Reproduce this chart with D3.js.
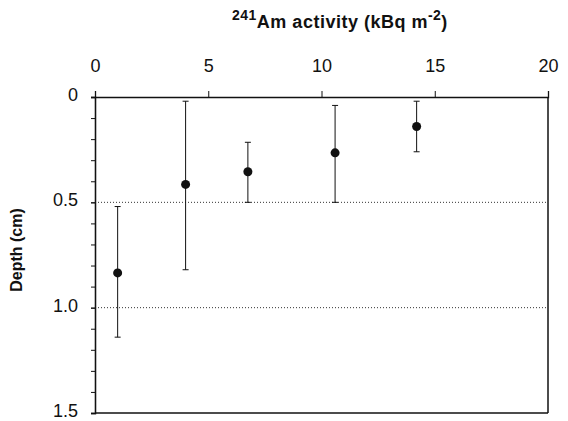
<!DOCTYPE html>
<html>
<head>
<meta charset="utf-8">
<script src="https://cdn.jsdelivr.net/npm/d3@7"></script>
<style>
body { margin: 0; background: #fff; }
text { font-family: Arial, "Liberation Sans", sans-serif; fill: #111; }
</style>
</head>
<body>
<div id="chart"></div>
<script>
// activity (kBq m-2) and depth (cm) with depth error range
var activity = [1.0, 4.0, 6.75, 10.6, 14.2];
var depth = [0.835, 0.415, 0.355, 0.265, 0.14];
var depthLow = [0.52, 0.02, 0.215, 0.04, 0.02];
var depthHigh = [1.14, 0.82, 0.50, 0.50, 0.26];
var xTicks = [0, 5, 10, 15, 20];
var yTicks = [0, 0.5, 1.0, 1.5];
var yTickLabels = ["0", "0.5", "1.0", "1.5"];
var gridLines = [0.5, 1.0];

var W = 568, H = 421;
var margin = {top: 97, right: 20, bottom: 8, left: 95},
    width = 548 - margin.left,
    height = 413 - margin.top;

var data = activity.map(function(a, i) {
    return {x: a, y: depth[i], lo: depthLow[i], hi: depthHigh[i]};
});

var x = d3.scaleLinear().domain([0, 20]).range([0, width]);
var y = d3.scaleLinear().domain([0, 1.5]).range([0, height]);

var svg = d3.select("#chart").append("svg")
    .attr("width", W)
    .attr("height", H)
    .append("g")
    .attr("transform", "translate(" + margin.left + "," + margin.top + ")");

// dotted reference lines
svg.selectAll(".grid")
    .data(gridLines)
    .enter().append("line")
    .attr("x1", 0).attr("x2", width)
    .attr("y1", function(d) { return y(d); })
    .attr("y2", function(d) { return y(d); })
    .attr("stroke", "#333")
    .attr("stroke-width", 1)
    .attr("stroke-dasharray", "1,2");

// top axis
var xAxis = svg.append("g")
    .call(d3.axisTop(x).tickValues(xTicks).tickSize(6).tickPadding(19).tickFormat(d3.format("d")));
xAxis.selectAll("text").style("font-size", "18px");

// left axis with minor ticks
svg.append("g")
    .call(d3.axisLeft(y).tickValues(d3.range(0, 1.51, 0.1)).tickSize(4).tickFormat(""));
var yAxis = svg.append("g")
    .call(d3.axisLeft(y).tickValues(yTicks).tickSize(4).tickPadding(13)
        .tickFormat(function(d, i) { return yTickLabels[i]; }));
yAxis.selectAll("text").style("font-size", "18px").attr("dy", "0.2em");

svg.selectAll(".domain").attr("stroke", "#111").attr("stroke-width", 1.3);
svg.selectAll(".tick line").attr("stroke", "#111");

// right and bottom frame
svg.append("line")
    .attr("x1", width).attr("x2", width).attr("y1", 0).attr("y2", height)
    .attr("stroke", "#111").attr("stroke-width", 1.5);
svg.append("line")
    .attr("x1", 0).attr("x2", width).attr("y1", height).attr("y2", height)
    .attr("stroke", "#111").attr("stroke-width", 1.5);

// error bars
var cap = 3;
var bars = svg.selectAll(".err")
    .data(data)
    .enter().append("g")
    .attr("stroke", "#111")
    .attr("stroke-width", 1);
bars.append("line")
    .attr("x1", function(d) { return x(d.x); })
    .attr("x2", function(d) { return x(d.x); })
    .attr("y1", function(d) { return y(d.lo); })
    .attr("y2", function(d) { return y(d.hi); });
bars.append("line")
    .attr("x1", function(d) { return x(d.x) - cap; })
    .attr("x2", function(d) { return x(d.x) + cap; })
    .attr("y1", function(d) { return y(d.lo); })
    .attr("y2", function(d) { return y(d.lo); });
bars.append("line")
    .attr("x1", function(d) { return x(d.x) - cap; })
    .attr("x2", function(d) { return x(d.x) + cap; })
    .attr("y1", function(d) { return y(d.hi); })
    .attr("y2", function(d) { return y(d.hi); });

// points
svg.selectAll(".pt")
    .data(data)
    .enter().append("circle")
    .attr("cx", function(d) { return x(d.x); })
    .attr("cy", function(d) { return y(d.y); })
    .attr("r", 4.5)
    .attr("fill", "#111");

// axis titles
var title = svg.append("text")
    .attr("x", 232 - margin.left)
    .attr("y", 28 - margin.top)
    .attr("text-anchor", "start")
    .style("font-size", "18px")
    .style("letter-spacing", "0.5px")
    .style("font-weight", "bold");
title.append("tspan").attr("dy", "-8").style("font-size", "14px").text("241");
title.append("tspan").attr("dy", "8").text("Am activity (kBq m");
title.append("tspan").attr("dy", "-8").style("font-size", "14px").text("-2");
title.append("tspan").attr("dy", "8").text(")");

svg.append("text")
    .attr("transform", "rotate(-90)")
    .attr("x", -(250 - margin.top))
    .attr("y", -(margin.left - 22))
    .attr("text-anchor", "middle")
    .style("font-size", "16px")
    .style("font-weight", "bold")
    .text("Depth (cm)");
</script>
</body>
</html>
